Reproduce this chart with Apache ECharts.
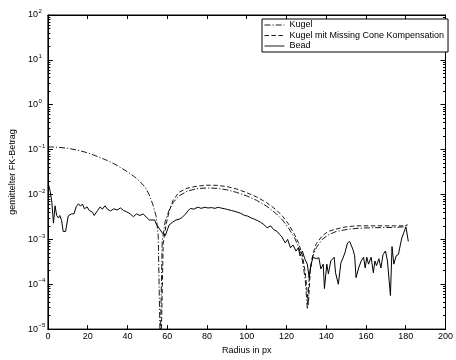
<!DOCTYPE html>
<html>
<head>
<meta charset="utf-8">
<script src="https://cdn.jsdelivr.net/npm/echarts@6/dist/echarts.min.js"></script>
<style>html,body{margin:0;padding:0;background:#fff}#c{width:456px;height:360px}</style>
</head>
<body>
<div id="c"></div>
<script>
// ---- data ----
const xTicks = [0, 20, 40, 60, 80, 100, 120, 140, 160, 180, 200];
const yExponents = [-5, -4, -3, -2, -1, 0, 1, 2];

const kugelR = [0, 5, 10, 15, 20, 25, 30, 35, 40, 43, 46, 49, 51, 53, 54.5, 55.5, 56.5, 57.5, 59, 61, 63, 66, 70, 75, 80, 85, 90, 95, 100, 105, 110, 115, 118, 121, 124, 126, 128, 129.5, 130.5, 131.5, 133, 135, 138, 141, 145, 150, 155, 160, 165, 170, 175, 179, 181];
const kugelV = [0.115, 0.113, 0.107, 0.097, 0.085, 0.07, 0.057, 0.044, 0.032, 0.026, 0.02, 0.0145, 0.0098, 0.0056, 0.0032, 0.0012, 0.000004, 0.0009, 0.0025, 0.0045, 0.0066, 0.0093, 0.0118, 0.0135, 0.014, 0.0137, 0.0127, 0.0111, 0.0093, 0.0074, 0.0055, 0.0037, 0.0027, 0.0018, 0.0011, 0.0007, 0.00035, 0.00012, 0.000028, 0.00015, 0.0004, 0.00065, 0.001, 0.00125, 0.0015, 0.00165, 0.00175, 0.0018, 0.00182, 0.00183, 0.00185, 0.0019, 0.0021];

const mcR = [57, 58, 59.5, 61, 63, 66, 70, 75, 80, 85, 90, 95, 100, 105, 110, 115, 118, 121, 124, 126, 128, 129.5, 131, 132, 133.5, 135, 138, 141, 145, 150, 155, 160, 165, 170, 175, 179, 181];
const mcV = [0.000005, 0.0008, 0.0022, 0.0042, 0.0075, 0.0112, 0.0138, 0.0153, 0.0161, 0.016, 0.015, 0.0132, 0.011, 0.0088, 0.0066, 0.0045, 0.0033, 0.0022, 0.0013, 0.00085, 0.00045, 0.00018, 0.000035, 0.0002, 0.0005, 0.0008, 0.0012, 0.0015, 0.0017, 0.0019, 0.002, 0.002, 0.002, 0.002, 0.002, 0.002, 0.0021];

const beadR = [0.3, 1.2, 2, 2.8, 3.6, 4.4, 5.3, 6, 6.9, 7.7, 8.9, 10.2, 11.8, 13.1, 14.3, 15.4, 16.4, 17.4, 18.4, 19.7, 20.8, 22.5, 23.3, 25, 26.3, 27.4, 28.7, 30, 31.5, 33.2, 34.8, 36.5, 38.1, 39.7, 41.4, 43, 44.6, 46.3, 47.9, 49.6, 51, 52, 53.7, 54.5, 56.2, 57.8, 59.1, 60, 61, 62.7, 64.4, 66, 67.6, 69.3, 70.6, 71.8, 73.4, 74.5, 75.8, 77, 79, 80.5, 82.4, 84, 85.7, 87, 89, 90.5, 92.3, 94, 95.6, 97, 99, 100.5, 102.3, 104, 105.6, 107, 108.9, 110.3, 112, 113.6, 115.3, 116.5, 117.7, 119.4, 120.6, 122, 123.3, 124.8, 126, 126.8, 128, 129.2, 130.5, 131.4, 132.3, 133.5, 135, 136.3, 137.3, 138.5, 139.1, 140.3, 141.1, 142.3, 144, 144.7, 146.1, 147.4, 148.6, 149.4, 150.7, 151.8, 153.4, 154.3, 155, 156.3, 157.6, 158.8, 159.6, 160.4, 161.3, 162.6, 163.7, 164.5, 165.3, 166.5, 167.5, 168.6, 169.8, 170.8, 172.3, 173.1, 174, 175.2, 176.3, 177.3, 178, 179, 180.1, 181.3];
const beadV = [0.0168, 0.0115, 0.0066, 0.0023, 0.0056, 0.0034, 0.003, 0.0034, 0.0026, 0.0015, 0.0015, 0.0033, 0.0037, 0.0037, 0.0054, 0.0062, 0.0055, 0.0061, 0.0048, 0.0053, 0.0044, 0.004, 0.0034, 0.0044, 0.0053, 0.0047, 0.0056, 0.0047, 0.0043, 0.0048, 0.0045, 0.005, 0.0044, 0.0041, 0.0037, 0.0032, 0.0037, 0.0034, 0.0037, 0.0031, 0.0027, 0.0026, 0.0027, 0.0022, 0.0017, 0.00134, 0.00122, 0.00158, 0.0021, 0.0024, 0.0027, 0.0028, 0.0031, 0.0037, 0.0044, 0.0049, 0.0047, 0.005, 0.0052, 0.0049, 0.0052, 0.005, 0.0051, 0.0049, 0.0052, 0.005, 0.0048, 0.0046, 0.0044, 0.0042, 0.004, 0.0038, 0.0034, 0.0033, 0.003, 0.0028, 0.0026, 0.0024, 0.0021, 0.0018, 0.002, 0.00165, 0.0015, 0.0013, 0.00114, 0.00083, 0.001, 0.00065, 0.00075, 0.00055, 0.00065, 0.00043, 0.00055, 0.00037, 0.00028, 0.00014, 0.00028, 0.0004, 0.00037, 0.00039, 0.00022, 0.00028, 0.00008, 0.00028, 0.00017, 0.00033, 0.0004, 0.00018, 0.0001, 0.0003, 0.0004, 0.0005, 0.00083, 0.0009, 0.0006, 0.00043, 0.00014, 0.00023, 0.00033, 0.0004, 0.00023, 0.0004, 0.00028, 0.0004, 0.00018, 0.00033, 0.00026, 0.00037, 0.00023, 0.00046, 0.00055, 0.00033, 0.000056, 0.00069, 0.00028, 0.00043, 0.00046, 0.0005, 0.00107, 0.0014, 0.0019, 0.0009];

const seriesNames = ['Kugel', 'Kugel mit Missing Cone Kompensation', 'Bead'];

// ---- build ----
const zip = (a, b) => a.map((x, i) => [x, b[i]]);
const FONT = 'Liberation Sans, Arial, Helvetica, sans-serif';
const expMin = yExponents[0], expMax = yExponents[yExponents.length - 1];
const minorTicks = [];
for (let n = expMin; n < expMax; n++) for (let k = 2; k <= 9; k++) minorTicks.push(n + Math.log10(k));

const chart = echarts.init(document.getElementById('c'), null, {renderer: 'canvas'});
const axisLine = {show: true, onZero: false, lineStyle: {color: '#000', width: 1}};
const minorAxis = (pos) => ({
  type: 'value', position: pos, min: expMin, max: expMax, gridIndex: 0,
  axisLine: {show: false, onZero: false}, splitLine: {show: false}, axisLabel: {show: false},
  axisTick: {show: true, inside: true, length: 2.5, lineStyle: {color: '#000'}, customValues: minorTicks}
});
chart.setOption({
  animation: false,
  backgroundColor: '#fff',
  textStyle: {fontFamily: FONT},
  grid: {left: 46, right: 4, top: 15, bottom: 24, show: true, borderColor: '#000', borderWidth: 1, backgroundColor: '#fff'},
  legend: {
    data: seriesNames, orient: 'vertical', left: 262, top: 19,
    padding: [1, 4, 1, 2], itemGap: 0.5, itemWidth: 20, itemHeight: 10,
    borderColor: '#000', borderWidth: 1, backgroundColor: '#fff',
    textStyle: {fontSize: 9, fontFamily: FONT, color: '#000', lineHeight: 10, padding: [0, 0, 0, 0]},
    lineStyle: {width: 0.9},
    itemStyle: {opacity: 0}
  },
  xAxis: [{
    type: 'value', min: xTicks[0], max: xTicks[xTicks.length - 1], interval: 20, position: 'bottom',
    name: 'Radius in px', nameLocation: 'middle', nameGap: 13,
    nameTextStyle: {fontSize: 9, color: '#000', fontFamily: FONT},
    axisLine: axisLine, splitLine: {show: false},
    axisTick: {inside: true, length: 4, lineStyle: {color: '#000'}},
    axisLabel: {fontSize: 9, color: '#000', margin: 3, fontFamily: FONT}
  }, {
    type: 'value', min: xTicks[0], max: xTicks[xTicks.length - 1], interval: 20, position: 'top',
    axisLine: axisLine, splitLine: {show: false}, axisLabel: {show: false},
    axisTick: {inside: true, length: 4, lineStyle: {color: '#000'}}
  }],
  yAxis: [{
    type: 'log', logBase: 10, min: Math.pow(10, expMin), max: Math.pow(10, expMax), splitNumber: 7, position: 'left',
    name: 'gemittelter FK-Betrag', nameLocation: 'middle', nameGap: 29,
    nameTextStyle: {fontSize: 9, color: '#000', fontFamily: FONT},
    axisLine: axisLine, splitLine: {show: false},
    axisTick: {inside: true, length: 5, lineStyle: {color: '#000'}},
    axisLabel: {
      margin: 20, align: 'left', color: '#000',
      formatter: v => { const e = Math.round(Math.log10(v)); return '{b|10}{s|' + (e < 0 ? '\u2212' + (-e) : e) + '}'; },
      rich: {b: {fontSize: 9, fontFamily: FONT, color: '#000'}, s: {fontSize: 6, fontFamily: FONT, color: '#000', padding: [0, 0, 7, 0.5]}}
    }
  }, {
    type: 'log', logBase: 10, min: Math.pow(10, expMin), max: Math.pow(10, expMax), splitNumber: 7, position: 'right',
    axisLine: axisLine, splitLine: {show: false}, axisLabel: {show: false},
    axisTick: {inside: true, length: 5, lineStyle: {color: '#000'}}
  }, minorAxis('left'), minorAxis('right')],
  series: [{
    name: seriesNames[0], type: 'line', data: zip(kugelR, kugelV), symbol: 'none', showSymbol: false, clip: true,
    color: '#000', lineStyle: {color: '#000', width: 0.9, type: [6, 2, 1.2, 2]}
  }, {
    name: seriesNames[1], type: 'line', data: zip(mcR, mcV), symbol: 'none', showSymbol: false, clip: true,
    color: '#000', lineStyle: {color: '#000', width: 0.9, type: [4.5, 2.5]}
  }, {
    name: seriesNames[2], type: 'line', data: zip(beadR, beadV), symbol: 'none', showSymbol: false, clip: true,
    color: '#000', lineStyle: {color: '#000', width: 1}
  }]
});
</script>
</body>
</html>
